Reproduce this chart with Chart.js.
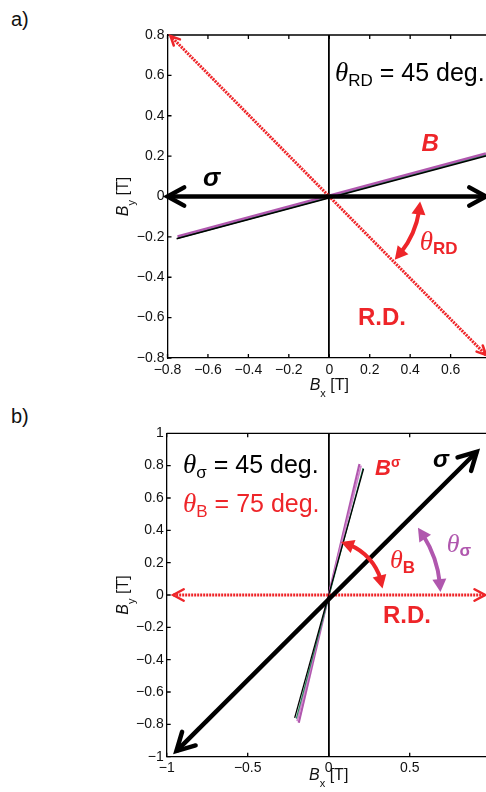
<!DOCTYPE html>
<html>
<head>
<meta charset="utf-8">
<script src="https://cdn.jsdelivr.net/npm/chart.js@4.4.1/dist/chart.umd.min.js"></script>
<style>
html, body { margin: 0; padding: 0; background: #fff; }
body { width: 486px; height: 792px; position: relative; overflow: hidden; font-family: "Liberation Sans", Arial, sans-serif; }
.panel { position: absolute; left: 0; width: 486px; }
#wrapA { top: 0; height: 400px; }
#wrapB { top: 400px; height: 392px; }
.tag { position: absolute; left: 11px; font-size: 20px; color: #111; line-height: 22px; }
</style>
</head>
<body>
<div class="tag" style="top:8px">a)</div>
<div class="tag" style="top:405px">b)</div>
<div class="panel" id="wrapA"><canvas id="chartA"></canvas></div>
<div class="panel" id="wrapB"><canvas id="chartB"></canvas></div>
<script>
const RED = '#ee2529';
const PURPLE = '#b057ae';
const LIGHTPURPLE = '#cf86cc';
const GREEN = '#23885a';

// panel a) theta_RD = 45 deg
const xTicksA = [-0.8, -0.6, -0.4, -0.2, 0, 0.2, 0.4, 0.6];
const yTicksA = [-0.8, -0.6, -0.4, -0.2, 0, 0.2, 0.4, 0.6, 0.8];
const sigmaAX = [-0.8, 0.775];
const sigmaAY = [0, 0];
const rdAX = [-0.785, 0.775];
const rdAY = [0.795, -0.785];
const bBlackAX = [-0.755, 0.775];
const bBlackAY = [-0.209, 0.201];
const bGreenAX = [-0.75, 0.775];
const bGreenAY = [-0.207, 0.204];
const bPurpleAX = [-0.75, 0.775];
const bPurpleAY = [-0.2, 0.211];

// panel b) theta_sigma = 45 deg, theta_B = 75 deg
const xTicksB = [-1, -0.5, 0, 0.5];
const yTicksB = [-1, -0.8, -0.6, -0.4, -0.2, 0, 0.2, 0.4, 0.6, 0.8, 1];
const sigmaBX = [-0.94, 0.914];
const sigmaBY = [-0.965, 0.886];
const rdBX = [-0.96, 0.965];
const rdBY = [0, 0];
const bsBlackX = [-0.21, 0.215];
const bsBlackY = [-0.76, 0.78];
const bsGreenX = [-0.2, 0.212];
const bsGreenY = [-0.765, 0.785];
const bsLightX = [-0.195, 0.2];
const bsLightY = [-0.78, 0.8];
const bsPurpleX = [-0.185, 0.19];
const bsPurpleY = [-0.79, 0.81];

Chart.defaults.font.family = '"Liberation Sans", Arial, sans-serif';

function pts(xs, ys) {
    return xs.map((x, i) => ({ x: x, y: ys[i] }));
}

function line(label, xs, ys, color, width, extra) {
    return Object.assign({
        label: label, data: pts(xs, ys), showLine: true,
        borderColor: color, backgroundColor: color, borderWidth: width,
        pointRadius: 0, pointHoverRadius: 0, fill: false, tension: 0
    }, extra || {});
}

function run(text, font, color, dy) {
    return { text: text, font: font, color: color, dy: dy || 0 };
}

function runsWidth(ctx, runs) {
    let w = 0;
    runs.forEach(r => { ctx.font = r.font; w += ctx.measureText(r.text).width; });
    return w;
}

function drawRuns(ctx, x, y, runs) {
    let cx = x;
    runs.forEach(r => {
        ctx.font = r.font;
        ctx.fillStyle = r.color;
        ctx.fillText(r.text, cx, y + r.dy);
        cx += ctx.measureText(r.text).width;
    });
}

function chevron(ctx, tip, prev, a) {
    const ang = Math.atan2(tip.y - prev.y, tip.x - prev.x);
    ctx.setLineDash([]);
    ctx.strokeStyle = a.color;
    ctx.lineWidth = a.width;
    ctx.lineCap = 'round';
    ctx.lineJoin = 'miter';
    ctx.beginPath();
    ctx.moveTo(tip.x - a.len * Math.cos(ang - a.half), tip.y - a.len * Math.sin(ang - a.half));
    ctx.lineTo(tip.x, tip.y);
    ctx.lineTo(tip.x - a.len * Math.cos(ang + a.half), tip.y - a.len * Math.sin(ang + a.half));
    ctx.stroke();
}

// curved double arrow round the origin
function drawArc(ctx, xs, ys, arc) {
    const cx = xs.getPixelForValue(0), cy = ys.getPixelForValue(0);
    const R = xs.getPixelForValue(arc.r) - cx;
    const rad = d => d * Math.PI / 180;
    const h = arc.head / R;
    const s = Math.sign(arc.to - arc.from);
    const a0 = rad(arc.from) + s * h * 0.7, a1 = rad(arc.to) - s * h * 0.7;
    ctx.setLineDash([]);
    ctx.strokeStyle = arc.color;
    ctx.fillStyle = arc.color;
    ctx.lineWidth = arc.width;
    ctx.lineCap = 'butt';
    ctx.beginPath();
    ctx.arc(cx, cy, R, -a0, -a1, s > 0);
    ctx.stroke();
    [[rad(arc.from), -s], [rad(arc.to), s]].forEach(([t, dir]) => {
        const tip = { x: cx + R * Math.cos(t), y: cy - R * Math.sin(t) };
        const tb = t - dir * h;
        const base = { x: cx + R * Math.cos(tb), y: cy - R * Math.sin(tb) };
        const ang = Math.atan2(tip.y - base.y, tip.x - base.x);
        ctx.beginPath();
        ctx.moveTo(tip.x, tip.y);
        ctx.lineTo(base.x + arc.half * Math.sin(ang), base.y - arc.half * Math.cos(ang));
        ctx.lineTo(base.x - arc.half * Math.sin(ang), base.y + arc.half * Math.cos(ang));
        ctx.closePath();
        ctx.fill();
    });
}

const decor = {
    id: 'decor',
    beforeDatasetsDraw(chart, args, opts) {
        const { ctx, chartArea: a, scales } = chart;
        ctx.save();
        ctx.strokeStyle = '#000';
        ctx.lineWidth = 1.3;
        ctx.beginPath();
        ctx.moveTo(a.left, a.top);
        ctx.lineTo(a.right, a.top);
        scales.x.ticks.forEach(t => {
            const px = scales.x.getPixelForValue(t.value);
            ctx.moveTo(px, a.bottom); ctx.lineTo(px, a.bottom - 4);
            ctx.moveTo(px, a.top); ctx.lineTo(px, a.top + 4);
        });
        scales.y.ticks.forEach(t => {
            const py = scales.y.getPixelForValue(t.value);
            ctx.moveTo(a.left, py); ctx.lineTo(a.left + 4, py);
        });
        ctx.stroke();
        ctx.restore();
    },
    afterDatasetsDraw(chart, args, opts) {
        const { ctx, chartArea: a, scales: { x, y } } = chart;
        ctx.save();
        chart.data.datasets.forEach((ds, i) => {
            if (!ds.arrow) return;
            const d = chart.getDatasetMeta(i).data;
            const n = d.length;
            chevron(ctx, d[n - 1], d[n - 2], ds.arrow);
            chevron(ctx, d[0], d[1], ds.arrow);
        });
        (opts.arcs || []).forEach(arc => drawArc(ctx, x, y, arc));
        ctx.textBaseline = 'alphabetic';
        ctx.textAlign = 'left';
        (opts.notes || []).forEach(n => drawRuns(ctx, x.getPixelForValue(n.x), y.getPixelForValue(n.y), n.runs));

        // axis titles
        const xt = [run('B', 'italic 16px "Liberation Sans"', '#111'), run('x', '11px "Liberation Sans"', '#111', 7), run(' [T]', '16px "Liberation Sans"', '#111')];
        const yt = [run('B', 'italic 16px "Liberation Sans"', '#111'), run('y', '11px "Liberation Sans"', '#111', 7), run(' [T]', '16px "Liberation Sans"', '#111')];
        const cxp = x.getPixelForValue(0);
        drawRuns(ctx, cxp - runsWidth(ctx, xt) / 2, a.bottom + opts.xTitleGap, xt);
        ctx.translate(opts.yTitleX, (a.top + a.bottom) / 2);
        ctx.rotate(-Math.PI / 2);
        drawRuns(ctx, -runsWidth(ctx, yt) / 2, 0, yt);
        ctx.restore();
    }
};

function makeChart(id, p) {
    const fmt = v => String(v).replace('-', '\u2212');
    return new Chart(document.getElementById(id), {
        type: 'scatter',
        data: { datasets: p.datasets },
        options: {
            responsive: true,
            maintainAspectRatio: false,
            animation: false,
            events: [],
            layout: { padding: { top: p.top, left: 0, right: 0, bottom: 0 } },
            plugins: {
                legend: { display: false },
                tooltip: { enabled: false },
                decor: { arcs: p.arcs, notes: p.notes, xTitleGap: p.xTitleGap, yTitleX: 128 }
            },
            scales: {
                x: {
                    type: 'linear', min: p.xMin, max: p.xMax,
                    afterBuildTicks: s => { s.ticks = p.xTicks.map(v => ({ value: v })); },
                    afterFit: s => { s.height = p.xHeight; },
                    grid: {
                        drawTicks: false,
                        color: c => (c.tick && c.tick.value === 0) ? '#000' : 'rgba(0,0,0,0)',
                        lineWidth: 1.8
                    },
                    border: { display: true, color: '#000', width: 1.3 },
                    ticks: { padding: p.xPad, color: '#111', font: { size: 14 }, maxRotation: 0, autoSkip: false, callback: fmt }
                },
                y: {
                    type: 'linear', min: p.yMin, max: p.yMax,
                    afterBuildTicks: s => { s.ticks = p.yTicks.map(v => ({ value: v })); },
                    afterFit: s => { s.width = p.yWidth; },
                    grid: { display: false, drawTicks: false },
                    border: { display: true, color: '#000', width: 1.3 },
                    ticks: { padding: 3, color: '#111', font: { size: 14 }, autoSkip: false, callback: fmt }
                }
            }
        },
        plugins: [decor]
    });
}

const thetaFont = s => 'italic ' + s + 'px "Liberation Serif"';

makeChart('chartA', {
    top: 35, xHeight: 42, yWidth: 167.5, xPad: 4, xTitleGap: 32,
    xMin: -0.8, xMax: 0.775, yMin: -0.8, yMax: 0.8,
    xTicks: xTicksA, yTicks: yTicksA,
    datasets: [
        line('sigma', sigmaAX, sigmaAY, '#000', 4.5, { arrow: { len: 19, half: 0.5, width: 4.5, color: '#000' } }),
        line('R.D.', rdAX, rdAY, RED, 3, { borderDash: [2, 1], arrow: { len: 10, half: 0.45, width: 2.5, color: RED } }),
        line('B black', bBlackAX, bBlackAY, '#000', 1.5),
        line('B green', bGreenAX, bGreenAY, GREEN, 1.3),
        line('B', bPurpleAX, bPurpleAY, PURPLE, 3.5)
    ],
    arcs: [{ r: 0.45, from: -3.2, to: -44, color: RED, width: 4, head: 13, half: 7 }],
    notes: [
        { x: 0.028, y: 0.573, runs: [run('\u03b8', thetaFont(27), '#000'), run('RD', '17px "Liberation Sans"', '#000', 5), run(' = 45 deg.', '25px "Liberation Sans"', '#000')] },
        { x: 0.456, y: 0.223, runs: [run('B', 'bold italic 24px "Liberation Sans"', RED)] },
        { x: -0.624, y: 0.053, runs: [run('\u03c3', 'bold italic 26px "Liberation Sans"', '#000')] },
        { x: 0.447, y: -0.264, runs: [run('\u03b8', thetaFont(27), RED), run('RD', 'bold 17px "Liberation Sans"', RED, 4)] },
        { x: 0.142, y: -0.635, runs: [run('R.D.', 'bold 24px "Liberation Sans"', RED)] }
    ]
});

makeChart('chartB', {
    top: 33.3, xHeight: 35.3, yWidth: 166.7, xPad: 3, xTitleGap: 23.3,
    xMin: -1, xMax: 0.971, yMin: -1, yMax: 1,
    xTicks: xTicksB, yTicks: yTicksB,
    datasets: [
        line('sigma', sigmaBX, sigmaBY, '#000', 4.5, { arrow: { len: 20, half: 0.5, width: 4.5, color: '#000' } }),
        line('R.D.', rdBX, rdBY, RED, 3, { borderDash: [2, 1], arrow: { len: 12, half: 0.5, width: 2.5, color: RED } }),
        line('B sigma black', bsBlackX, bsBlackY, '#000', 1.3),
        line('B sigma green', bsGreenX, bsGreenY, GREEN, 1.2),
        line('B sigma light', bsLightX, bsLightY, LIGHTPURPLE, 1.8),
        line('B sigma', bsPurpleX, bsPurpleY, PURPLE, 2.2)
    ],
    arcs: [
        { r: 0.335, from: 7, to: 77, color: RED, width: 4, head: 13, half: 7 },
        { r: 0.69, from: 1.5, to: 37, color: PURPLE, width: 4, head: 13, half: 7 }
    ],
    notes: [
        { x: -0.899, y: 0.754, runs: [run('\u03b8', thetaFont(27), '#000'), run('\u03c3', '17px "Liberation Sans"', '#000', 5), run(' = 45 deg.', '25px "Liberation Sans"', '#000')] },
        { x: -0.899, y: 0.515, runs: [run('\u03b8', thetaFont(27), RED), run('B', '17px "Liberation Sans"', RED, 5), run(' = 75 deg.', '25px "Liberation Sans"', RED)] },
        { x: 0.286, y: 0.742, runs: [run('B', 'bold italic 22px "Liberation Sans"', RED), run('\u03c3', 'bold 14px "Liberation Sans"', RED, -8)] },
        { x: 0.644, y: 0.793, runs: [run('\u03c3', 'bold italic 24px "Liberation Sans"', '#000')] },
        { x: 0.378, y: 0.167, runs: [run('\u03b8', thetaFont(26), RED), run('B', 'bold 17px "Liberation Sans"', RED, 5)] },
        { x: 0.728, y: 0.268, runs: [run('\u03b8', thetaFont(26), PURPLE), run('\u03c3', 'bold 17px "Liberation Sans"', PURPLE, 4)] },
        { x: 0.335, y: -0.175, runs: [run('R.D.', 'bold 24px "Liberation Sans"', RED)] }
    ]
});
</script>
</body>
</html>
